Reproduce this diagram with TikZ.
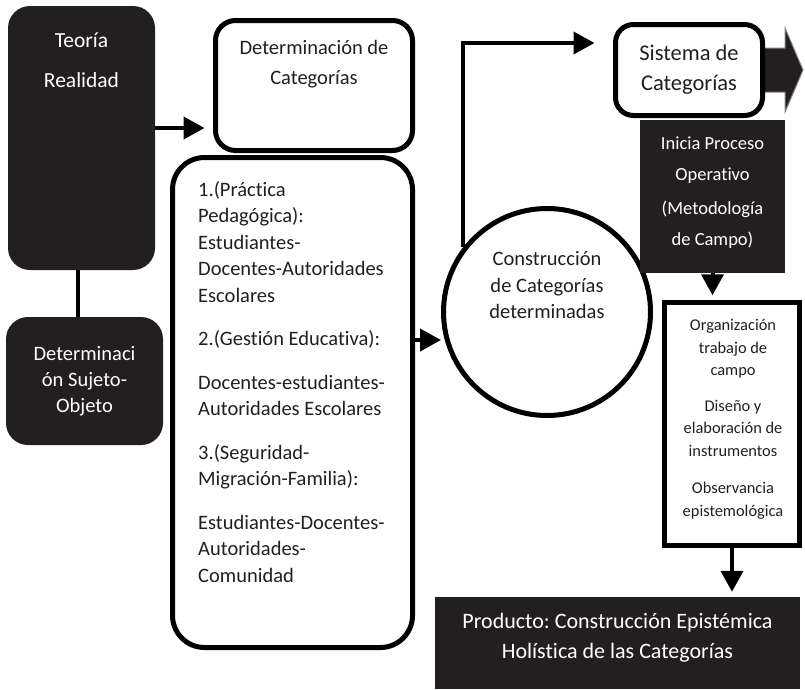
\documentclass[tikz,border=0pt]{standalone}
\usepackage{fontspec}
\setmainfont{Carlito}[Ligatures=CommonOff]
\usepackage{xcolor}
\usetikzlibrary{positioning, arrows.meta}

\definecolor{oscuro}{HTML}{231F20}

\tikzset{
  caja/.style={draw=black, line width=5pt, fill=white, inner sep=0pt},
  negra/.style={fill=oscuro, rounded corners=22pt, inner sep=0pt, text=white, align=center,
    font=\fontsize{20.5}{26}\selectfont},
  texto/.style={inner sep=0pt, align=center, text=oscuro, font=\fontsize{20.5}{25.5}\selectfont},
  flecha/.style={line width=4pt, -{Triangle[length=21pt,width=22pt]}},
}

\begin{document}
\frenchspacing
\begin{tikzpicture}[x=1pt, y=-1pt]
  \useasboundingbox (0,0) rectangle (805,689);

  % columna izquierda
  \node[negra, minimum width=147pt, minimum height=264pt] (teoria) at (81.5,138) {};
  \node[texto, text=white, anchor=north, font=\fontsize{21.5}{40}\selectfont] (teoriatxt) at (81.5,33) {Teoría\\Realidad};
  \node[negra, minimum width=157pt, minimum height=128pt] (sujeto) at (84.5,381) {Determinaci\\ón Sujeto-\\Objeto};
  \draw[line width=4pt] ([xshift=-3.5pt]teoria.south) -- ([xshift=-3.5pt]teoria.south |- sujeto.north);

  % categorias
  \node[caja, rounded corners=20pt, minimum width=197pt, minimum height=130pt] (detcat) at (314,85.5) {};
  \node[texto, anchor=north, font=\fontsize{20.5}{30}\selectfont] (detcattxt) at (314,40) {Determinación de\\Categorías};
  \node[caja, rounded corners=32pt, minimum width=240pt, minimum height=490pt] (lista) at (292.5,402.5) {};
  \node[texto, align=left, anchor=north west, font=\fontsize{20.5}{26.5}\selectfont] (listatxt) at (198,181) {%
    1.(Práctica\\Pedagógica):\\Estudiantes-\\Docentes-Autoridades\\Escolares\\[17pt]
    2.(Gestión Educativa):\\[17pt]
    Docentes-estudiantes-\\Autoridades Escolares\\[17pt]
    3.(Seguridad-\\Migración-Familia):\\[17pt]
    Estudiantes-Docentes-\\Autoridades-\\Comunidad};

  % construccion
  \node[caja, circle, minimum size=207pt] (circulo) at (547,312) {};
  \node[texto, font=\fontsize{20.5}{26.5}\selectfont] (circulotxt) at (547,285.5) {Construcción\\de Categorías\\determinadas};

  % columna derecha
  \filldraw[fill=oscuro, draw=gray, line width=1pt] (764,48) -- (785,48) -- (785,28) -- (803,70)
    -- (785,112) -- (785,92) -- (764,92) -- cycle;
  \node[fill=oscuro, minimum width=145pt, minimum height=153pt] (inicia) at (712.5,196.5) {};
  \node[texto, text=white, font=\fontsize{18.5}{31}\selectfont] (iniciatxt) at (712.5,193) {Inicia Proceso\\Operativo\\[3pt](Metodología\\de Campo)};
  \node[caja, rounded corners=18pt, minimum width=147pt, minimum height=91pt, align=center,
    text=oscuro, font=\fontsize{22.5}{30}\selectfont] (sistema) at (689,70) {Sistema de\\Categorías};
  \node[caja, line width=5.5pt, minimum width=135pt, minimum height=243pt] (campo) at (732,424) {};
  \node[texto, font=\fontsize{16.4}{22.5}\selectfont] (campotxt) at (733,419.5) {Organización\\trabajo de\\campo\\[13pt]
    Diseño y\\elaboración de\\instrumentos\\[15pt]Observancia\\epistemológica};
  \node[fill=oscuro, minimum width=365pt, minimum height=92pt] (producto) at (617.5,643) {};
  \node[texto, text=white, font=\fontsize{22}{30}\selectfont] (productotxt) at (617.5,637.5) {Producto: Construcción Epistémica\\Holística de las Categorías};

  % conectores
  \coordinate (a) at ([yshift=10pt]teoria.east);
  \draw[flecha, shorten >=8.5pt] (a) -- (a -| detcat.west);
  \coordinate (b) at ([yshift=62.5pt]lista.east);
  \draw[flecha] (b) -- (b -| circulo.west);
  \coordinate (c) at ([yshift=27pt]sistema.west);
  \draw[flecha, shorten >=18.5pt] (circulo.142) |- (c);
  \draw[flecha, shorten >=4.5pt] (inicia.south) -- (inicia.south |- campo.north);
  \draw[flecha, shorten >=5pt] (campo.south) -- (campo.south |- producto.north);
\end{tikzpicture}
\end{document}
